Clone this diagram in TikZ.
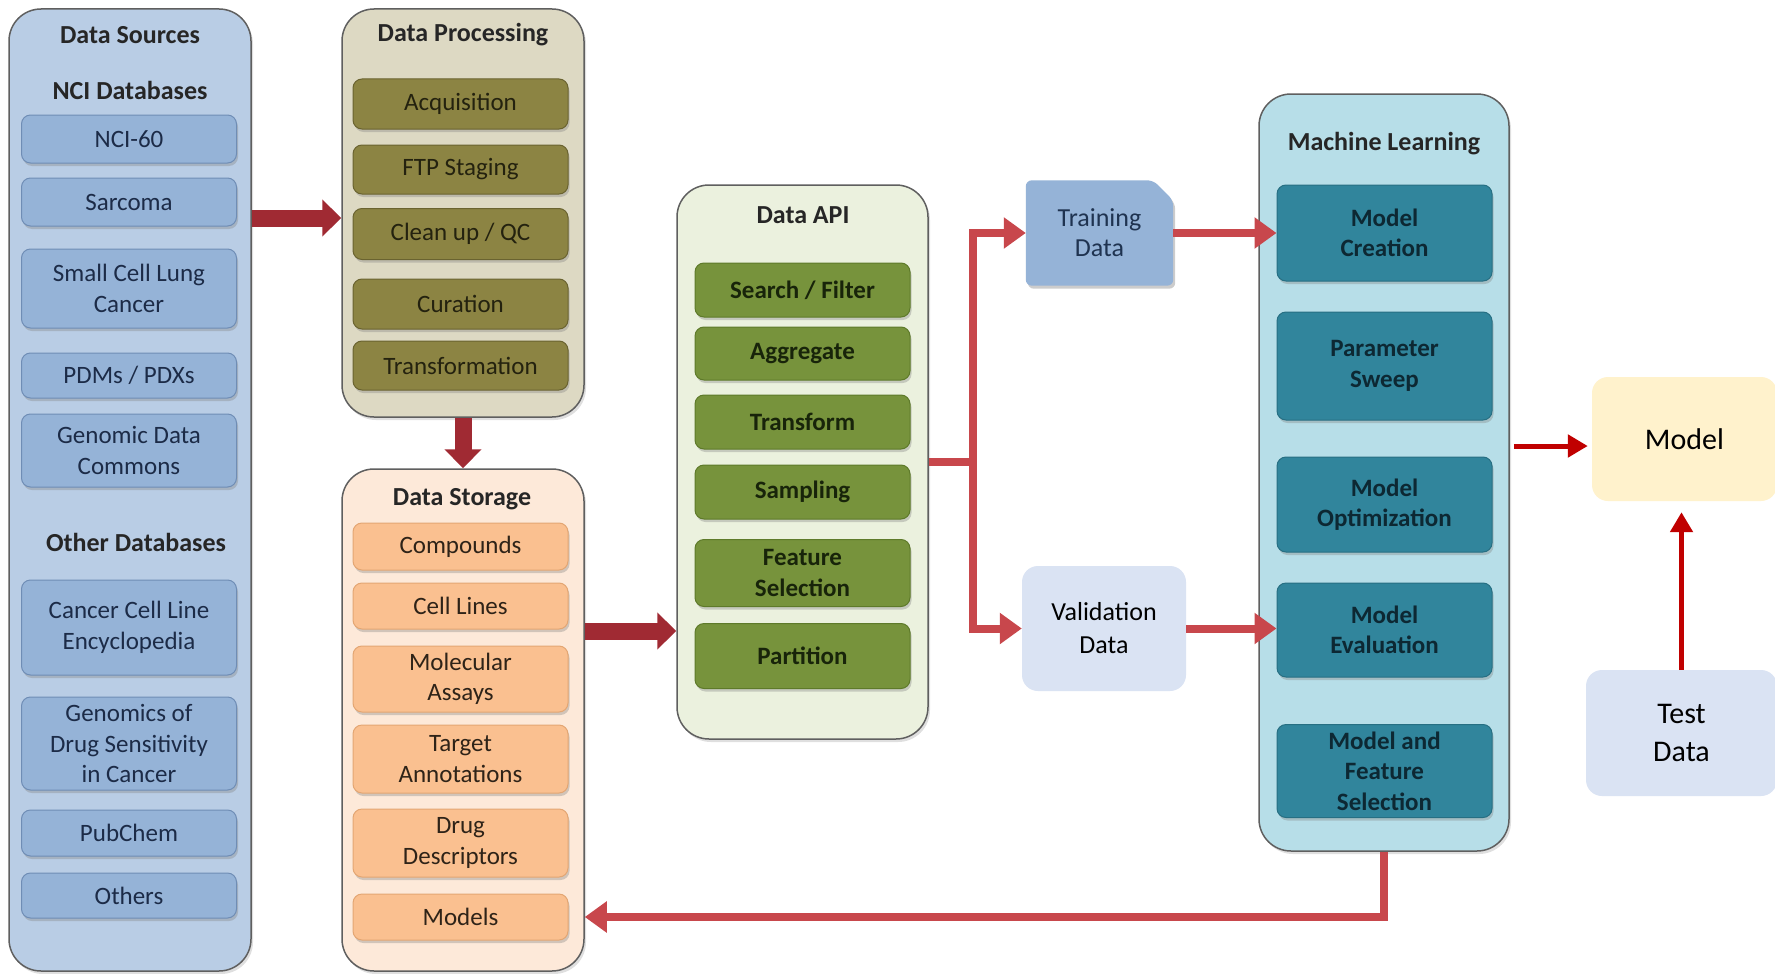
\documentclass[tikz,border=0pt]{standalone}
\usepackage{fontspec}
\setmainfont{Carlito}
\usetikzlibrary{arrows.meta,shadows,backgrounds,calc}

\definecolor{srcbg}{HTML}{B9CDE5}
\definecolor{srcbox}{HTML}{95B3D7}
\definecolor{srcedge}{HTML}{6F8DB5}
\definecolor{srctext}{HTML}{1C2B47}
\definecolor{procbg}{HTML}{DDD9C3}
\definecolor{procbox}{HTML}{8C8443}
\definecolor{procedge}{HTML}{6A6330}
\definecolor{proctext}{HTML}{24220F}
\definecolor{storbg}{HTML}{FDE9D9}
\definecolor{storbox}{HTML}{FAC090}
\definecolor{storedge}{HTML}{E3A673}
\definecolor{stortext}{HTML}{2E2318}
\definecolor{apibg}{HTML}{EBF1DE}
\definecolor{apibox}{HTML}{77933C}
\definecolor{apiedge}{HTML}{5E7A2A}
\definecolor{apitext}{HTML}{18240A}
\definecolor{mlbg}{HTML}{B7DEE8}
\definecolor{mlbox}{HTML}{31859C}
\definecolor{mledge}{HTML}{276F83}
\definecolor{mltext}{HTML}{0D2833}
\definecolor{frame}{HTML}{5F5F5F}
\definecolor{trainfill}{HTML}{95B3D7}
\definecolor{traintext}{HTML}{1F3350}
\definecolor{paleblue}{HTML}{DAE3F3}
\definecolor{modelfill}{HTML}{FFF2CC}
\definecolor{blockred}{HTML}{A02A33}
\definecolor{flowred}{HTML}{C8474C}
\definecolor{brightred}{HTML}{C00000}

\tikzset{
  container/.style={rectangle, rounded corners=32pt, draw=frame, line width=1.5pt,
    drop shadow={opacity=0.25, shadow xshift=2pt, shadow yshift=-3pt}},
  headline/.style={font=\bfseries\fontsize{26}{30}\selectfont, text=black!85},
  item/.style={rectangle, rounded corners=9pt, minimum width=215pt, align=center,
    line width=1pt, inner sep=2pt, font=\fontsize{25}{30.5}\selectfont,
    drop shadow={opacity=0.35, shadow xshift=1.5pt, shadow yshift=-3pt}},
  srcitem/.style={item, fill=srcbox, draw=srcedge, text=srctext},
  procitem/.style={item, fill=procbox, draw=procedge, text=proctext},
  storitem/.style={item, fill=storbox, draw=storedge, text=stortext},
  apiitem/.style={item, fill=apibox, draw=apiedge, text=apitext,
    font=\bfseries\fontsize{25}{30.5}\selectfont},
  mlitem/.style={item, fill=mlbox, draw=mledge, text=mltext,
    font=\bfseries\fontsize{25}{30.5}\selectfont},
  softbox/.style={rectangle, rounded corners=16pt, align=center, text=black},
  blockarrow/.style={draw=blockred, line width=17pt, -{Triangle[length=19pt,width=36pt]}},
  flowarrow/.style={draw=flowred, line width=8pt, -{Triangle[length=22pt,width=30pt]}},
  flowline/.style={draw=flowred, line width=8pt},
  redarrow/.style={draw=brightred, line width=5pt, -{Triangle[length=20pt,width=22pt]}},
}

\begin{document}
\begin{tikzpicture}[x=1pt,y=-1pt]
\useasboundingbox (0,0) rectangle (1775,974);
\begin{scope}[on background layer]
  \fill[white] (0,0) rectangle (1775,974);
\end{scope}

% ---------- Data Sources ----------
\node[container, fill=srcbg, minimum width=242pt, minimum height=962pt] (sources) at (130,490) {};
\node[headline] (srctitle) at (130,35) {Data Sources};
\node[headline] (ncititle) at (130,90) {NCI Databases};
\node[srcitem, minimum height=48pt] (nci)  at (129,139)   {NCI-60};
\node[srcitem, minimum height=48pt] (sarc) at (129,202)   {Sarcoma};
\node[srcitem, minimum height=79pt] (sclc) at (129,288.5) {Small Cell Lung\\Cancer};
\node[srcitem, minimum height=45pt] (pdm)  at (129,375.5) {PDMs / PDXs};
\node[srcitem, minimum height=73pt] (gdc)  at (129,450.5) {Genomic Data\\Commons};
\node[headline] (othtitle) at (136,542) {Other Databases};
\node[srcitem, minimum height=95pt] (ccle) at (129,627.5) {Cancer Cell Line\\Encyclopedia};
\node[srcitem, minimum height=93pt] (gdsc) at (129,743.5) {Genomics of\\Drug Sensitivity\\in Cancer};
\node[srcitem, minimum height=46pt] (pub)  at (129,833)   {PubChem};
\node[srcitem, minimum height=45pt] (oth)  at (129,895.5) {Others};

% ---------- Data Processing ----------
\node[container, fill=procbg, minimum width=242pt, minimum height=408pt] (proc) at (463,213) {};
\node[headline] (proctitle) at (463,35) {Data Processing};
\node[procitem, minimum height=50pt] (acq)   at (460.5,104)   {Acquisition};
\node[procitem, minimum height=49pt] (ftp)   at (460.5,169.5) {FTP Staging};
\node[procitem, minimum height=51pt] (clean) at (460.5,234)   {Clean up / QC};
\node[procitem, minimum height=50pt] (cur)   at (460.5,304)   {Curation};
\node[procitem, minimum height=49pt] (trf)   at (460.5,365.5) {Transformation};

% ---------- Data Storage ----------
\node[container, fill=storbg, minimum width=242pt, minimum height=502pt] (storage) at (463,720) {};
\node[headline] (stortitle) at (462,499) {Data Storage};
\node[storitem, minimum height=47pt] (comp)   at (460.5,546.5) {Compounds};
\node[storitem, minimum height=46pt] (cell)   at (460.5,606)   {Cell Lines};
\node[storitem, minimum height=66pt] (mol)    at (460.5,679)   {Molecular\\Assays};
\node[storitem, minimum height=68pt] (targ)   at (460.5,759)   {Target\\Annotations};
\node[storitem, minimum height=68pt] (drug)   at (460.5,843)   {Drug\\Descriptors};
\node[storitem, minimum height=46pt] (models) at (460.5,917)   {Models};

% ---------- Data API ----------
\node[container, fill=apibg, minimum width=251pt, minimum height=554pt] (api) at (802.5,462) {};
\node[headline] (apititle) at (803,215) {Data API};
\node[apiitem, minimum height=54pt] (search) at (802.5,290)   {Search / Filter};
\node[apiitem, minimum height=53pt] (agg)    at (802.5,353.5) {Aggregate};
\node[apiitem, minimum height=54pt] (tfm)    at (802.5,422)   {Transform};
\node[apiitem, minimum height=54pt] (samp)   at (802.5,492)   {Sampling};
\node[apiitem, minimum height=67pt] (feat)   at (802.5,573)   {Feature\\Selection};
\node[apiitem, minimum height=65pt] (part)   at (802.5,656)   {Partition};

% ---------- Machine Learning ----------
\node[container, fill=mlbg, minimum width=250pt, minimum height=757pt] (ml) at (1384,472.5) {};
\node[headline] (mltitle) at (1384,144) {Machine Learning};
\node[mlitem, minimum height=96pt]  (mc)  at (1384.5,233)   {Model\\Creation};
\node[mlitem, minimum height=108pt] (ps)  at (1384.5,366)   {Parameter\\Sweep};
\node[mlitem, minimum height=95pt]  (mo)  at (1384.5,504.5) {Model\\Optimization};
\node[mlitem, minimum height=94pt]  (me)  at (1384.5,630)   {Model\\Evaluation};
\node[mlitem, minimum height=93pt]  (mfs) at (1384.5,771)   {Model and\\Feature\\Selection};

% ---------- Training / Validation ----------
\node[rectangle, minimum width=147pt, minimum height=105pt, inner sep=0pt, align=center,
      text=traintext, font=\fontsize{26}{30}\selectfont] (training) at (1099.5,233) {Training\\Data};
\begin{scope}[on background layer]
  \begin{scope}[transform canvas={xshift=2pt,yshift=-3pt}]
    \fill[black, opacity=0.2, rounded corners=6pt]
      (training.south west) -- (training.north west) -- ([xshift=-20pt]training.north east)
      -- ([yshift=-20pt]training.north east) -- (training.south east) -- cycle;
  \end{scope}
  \fill[trainfill, rounded corners=6pt]
    (training.south west) -- (training.north west) -- ([xshift=-20pt]training.north east)
    -- ([yshift=-20pt]training.north east) -- (training.south east) -- cycle;
\end{scope}

\node[softbox, fill=paleblue, minimum width=164pt, minimum height=125pt,
      font=\fontsize{26}{33}\selectfont] (validation) at (1104,628.5) {Validation\\Data};

% ---------- Model / Test Data ----------
\node[softbox, fill=modelfill, minimum width=185pt, minimum height=124pt,
      font=\fontsize{30}{36}\selectfont] (model) at (1684.5,439) {Model};
\node[softbox, fill=paleblue, minimum width=191pt, minimum height=126pt,
      font=\fontsize{30}{38}\selectfont] (test) at (1681.5,733) {Test\\Data};

% ---------- Connectors ----------
\draw[blockarrow] ([yshift=-5pt]sources.east |- proc.west) -- ([yshift=-5pt]proc.west);
\draw[blockarrow] (proc.south) -- (storage.north);
\draw[blockarrow] ([yshift=89pt]storage.east) -- ([yshift=89pt]storage.east -| api.west);

\coordinate (split) at (973,462);
\draw[flowline] (api.east) -- (split);
\draw[flowarrow] (split) |- (training.west);
\draw[flowarrow] (split) |- (validation.west);
\draw[flowarrow] (training.east) -- (training.east -| mc.west);
\draw[flowarrow] (validation.east) -- (validation.east -| me.west);
\draw[flowarrow] (ml.south) |- (models.east -| storage.east);

\draw[redarrow, shorten <=4pt, shorten >=4pt] ([yshift=-7pt]ml.east |- model.west) -- ([yshift=-7pt]model.west);
\draw[redarrow, shorten >=11pt] (test.north) -- (test.north |- model.south);
\end{tikzpicture}
\end{document}
